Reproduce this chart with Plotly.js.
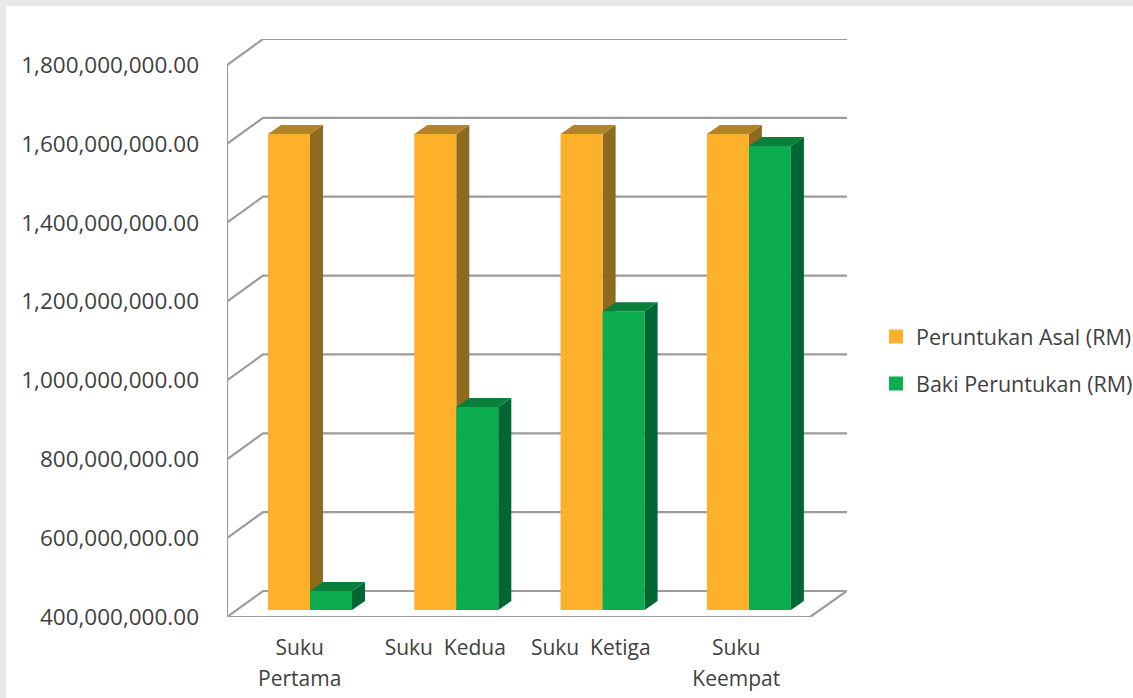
<!DOCTYPE html>
<html><head><meta charset="utf-8">
<script src="https://cdn.plot.ly/plotly-3.0.1.min.js"></script>
<style>
html,body{margin:0;padding:0;background:#fff;overflow:hidden}
.strip{position:absolute;background:#e9e9e7}
#chart{position:absolute;left:0;top:0;width:1133px;height:698px}
</style></head><body>
<div class="strip" style="left:0;top:0;width:1133px;height:6px"></div>
<div class="strip" style="left:0;top:0;width:6px;height:698px"></div>
<div id="chart"></div>
<script>
const categories = ['Suku<br>Pertama', 'Suku\u00a0\u00a0Kedua', 'Suku\u00a0\u00a0Ketiga', 'Suku<br>Keempat'];
const seriesNames = ['Peruntukan Asal (RM)', 'Baki Peruntukan (RM)'];
const peruntukanAsal = [1607000000, 1607000000, 1607000000, 1607000000];
const bakiPeruntukan = [448000000, 915000000, 1158000000, 1577000000];
const yTicks = [400000000, 600000000, 800000000, 1000000000, 1200000000, 1400000000, 1600000000, 1800000000];
const yTickLabels = ['400,000,000.00','600,000,000.00','800,000,000.00','1,000,000,000.00','1,200,000,000.00','1,400,000,000.00','1,600,000,000.00','1,800,000,000.00'];

const W = 1133, H = 698;
const L = 227, R = 847, T = 39, B = 617;      // plot box in page pixels
const pxX = 145.5, pxBar = 146.3;             // px per category: front plane, bar plane
const pxY = 552 / 1400000000;                 // px per unit
const yMin = 400000000, yMax = yMin + (B - T) / pxY;
const xMin = -0.5, xMax = xMin + (R - L) / pxX;
const wallDX = 36 / pxX, wallDY = 26 / pxY;   // front plane to back wall
const frontEnd = xMin + (810 - L) / pxX;
const barShiftY = 7 / pxY;                    // bars stand inside the floor
const barXMin = -(310 - L) / pxBar, barXMax = barXMin + (R - L) / pxBar;
const depthX = 13 / pxBar, depthY = 9 / pxY;  // depth of a bar
const barW = 42 / pxBar, edgeX = 1 / pxBar, edgeY = 1 / pxY;
const colours = {
  a: {front: '#FDB12A', side: '#8E6A1F', top: '#B38426'},
  b: {front: '#0BAD4E', side: '#006633', top: '#0A7F3A'}
};
const textColour = '#3f3f3f', gridColour = '#9c9c9c';

const traces = [];
yTicks.forEach(v => {
  traces.push({type: 'scatter', mode: 'lines', x: [xMin, xMin + wallDX, xMax], y: [v, v + wallDY, v + wallDY],
    showlegend: false, hoverinfo: 'skip', zorder: 0, line: {color: gridColour, width: 2.2}});
});
traces.push({type: 'scatter', mode: 'lines', showlegend: false, hoverinfo: 'skip', zorder: 0,
  x: [xMin, xMin, frontEnd, xMax], y: [yTicks[yTicks.length - 1], yMin, yMin, yMin + wallDY],
  line: {color: gridColour, width: 2.2}});

function barFaces(values, offset, c, z) {
  values.forEach((v, i) => {
    const x0 = i + offset, x1 = x0 + barW, b = yMin;
    traces.push({type: 'scatter', mode: 'lines', fill: 'toself', fillcolor: c.side, line: {width: 0, color: c.side},
      x: [x1, x1 + depthX, x1 + depthX, x1, x1], y: [b, b + depthY, v + depthY, v, b],
      xaxis: 'x2', yaxis: 'y2', showlegend: false, hoverinfo: 'skip', zorder: z});
    traces.push({type: 'scatter', mode: 'lines', fill: 'toself', fillcolor: c.top, line: {width: 0, color: c.top},
      x: [x0, x0 + depthX, x1 + depthX, x1, x0], y: [v, v + depthY, v + depthY, v, v],
      xaxis: 'x2', yaxis: 'y2', showlegend: false, hoverinfo: 'skip', zorder: z});
  });
}
const idx = categories.map((_, i) => i);
function barTrace(name, values, offset, c, group, z) {
  return {type: 'bar', name: name, x: idx, y: values.map(v => v - yMin - 2 * edgeY), base: yMin + edgeY,
    width: barW - 2 * edgeX, offset: offset + edgeX,
    marker: {color: c.front, line: {color: c.front, width: 2}},
    xaxis: 'x2', yaxis: 'y2', legendgroup: group, zorder: z};
}
barFaces(peruntukanAsal, -barW, colours.a, 1);
traces.push(barTrace(seriesNames[0], peruntukanAsal, -barW, colours.a, 'a', 2));
traces.push(barTrace(seriesNames[1], bakiPeruntukan, 0, colours.b, 'b', 3));
barFaces(bakiPeruntukan, 0, colours.b, 4);

const font = {family: '"Open Sans", sans-serif', color: textColour};
const layout = {
  width: W, height: H,
  paper_bgcolor: 'rgba(0,0,0,0)', plot_bgcolor: 'rgba(0,0,0,0)',
  margin: {l: L, r: W - R, t: T, b: H - B, pad: 0},
  barmode: 'overlay',
  font: font,
  xaxis: {range: [xMin, xMax], tickmode: 'array', tickvals: idx,
    ticktext: categories.map(c => c.split('<br>').map(s => '<span style="font-size:21px">' + s + '</span>').join('<br>')),
    showgrid: false, zeroline: false, showline: false, ticks: '', ticklabelstandoff: 13,
    tickfont: {size: 24, family: font.family, color: textColour}},
  yaxis: {range: [yMin, yMax], tickmode: 'array', tickvals: yTicks, ticktext: yTickLabels,
    showgrid: false, zeroline: false, showline: false, ticks: '', ticklabelstandoff: 27,
    tickfont: {size: 22.5, family: font.family, color: textColour}},
  xaxis2: {overlaying: 'x', anchor: 'y2', range: [barXMin, barXMax], visible: false},
  yaxis2: {overlaying: 'y', anchor: 'x2', range: [yMin - barShiftY, yMax - barShiftY], visible: false},
  legend: {x: 876 / W, xref: 'container', xanchor: 'left', y: 1 - 360 / H, yref: 'container', yanchor: 'middle',
    font: {size: 21.5, family: font.family, color: textColour}, itemwidth: 30, tracegroupgap: 16, bgcolor: 'rgba(0,0,0,0)'},
  showlegend: true
};
Plotly.newPlot('chart', traces, layout, {displayModeBar: false, responsive: false});
</script></body></html>
